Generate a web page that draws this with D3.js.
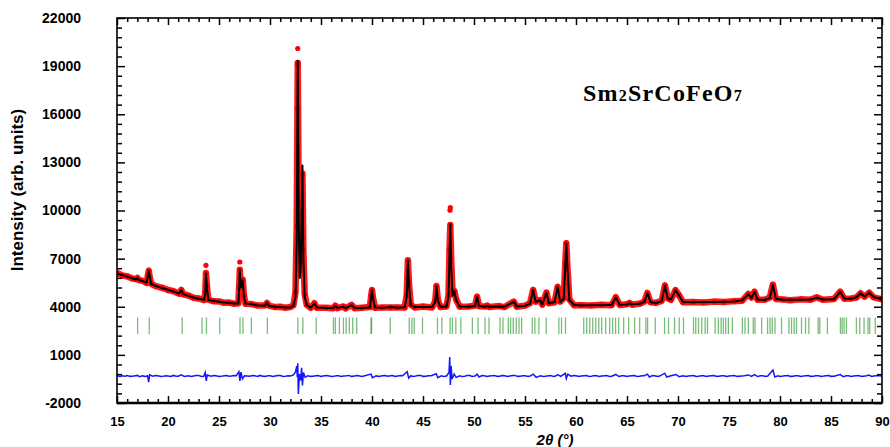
<!DOCTYPE html>
<html>
<head>
<meta charset="utf-8">
<script src="https://cdn.jsdelivr.net/npm/d3@7"></script>
<style>
  body { margin: 0; background: #fff; }
  svg { display: block; }
</style>
</head>
<body>
<div id="chart-area"></div>
<script>
// axis ticks
var xMajor = [15, 20, 25, 30, 35, 40, 45, 50, 55, 60, 65, 70, 75, 80, 85, 90];
var yMajor = [-2000, 1000, 4000, 7000, 10000, 13000, 16000, 19000, 22000];

// calculated profile [2theta, intensity]
var calcPts = [
  [15.0, 6080], [15.5, 5980], [16.0, 5880], [16.5, 5780], [16.85, 5700], [17.0, 5780], [17.15, 5680],
  [17.5, 5600], [17.9, 5500], [18.05, 6000], [18.12, 6230], [18.2, 5900], [18.35, 5420], [18.8, 5300],
  [19.5, 5150], [20.0, 5060], [20.5, 4960], [21.1, 4830], [21.3, 5030], [21.5, 4790], [22.0, 4680],
  [22.5, 4580], [23.0, 4500], [23.55, 4440], [23.65, 4800], [23.72, 6070], [23.82, 5200], [23.95, 4420],
  [24.5, 4360], [25.0, 4310], [25.5, 4270], [26.0, 4240], [26.5, 4210], [26.9, 4200], [26.97, 5000],
  [27.04, 6310], [27.12, 5200], [27.2, 5300], [27.32, 5650], [27.45, 4600], [27.6, 4200], [28.2, 4150],
  [28.7, 4100], [29.5, 4060], [29.7, 4250], [29.9, 4050], [30.5, 4000], [31.0, 3980], [31.5, 3960],
  [32.0, 3960], [32.3, 4050], [32.5, 4600], [32.62, 8000], [32.72, 19330], [32.82, 9000], [32.92, 5800],
  [33.02, 6500], [33.1, 10000], [33.18, 12800], [33.27, 7000], [33.4, 4600], [33.6, 4100], [34.0, 3950],
  [34.35, 4200], [34.6, 3950], [35.5, 3920], [36.2, 3920], [36.4, 4050], [36.6, 3930], [37.2, 4000],
  [37.4, 3920], [38.0, 4100], [38.3, 3930], [39.0, 3920], [39.8, 3960], [39.92, 4600], [40.0, 5030],
  [40.1, 4500], [40.3, 3950], [41.0, 3930], [41.8, 3980], [42.5, 3940], [43.2, 3970], [43.4, 4600],
  [43.52, 6870], [43.62, 5400], [43.8, 4100], [44.2, 3980], [45.0, 3990], [45.9, 3980], [46.2, 4300],
  [46.32, 5270], [46.45, 4400], [46.7, 4000], [47.3, 4000], [47.5, 4600], [47.6, 7200], [47.68, 9130],
  [47.76, 6500], [47.9, 4700], [48.08, 4960], [48.25, 4400], [48.6, 4020], [49.5, 4000], [50.1, 4050],
  [50.3, 4610], [50.5, 4050], [51.1, 4000], [51.3, 4050], [51.5, 4000], [52.5, 4020], [53.0, 4000],
  [53.9, 4300], [54.2, 4020], [55.0, 4050], [55.5, 4200], [55.8, 5030], [56.05, 4300], [56.45, 4400],
  [56.7, 4150], [57.1, 4860], [57.35, 4200], [57.9, 4300], [58.2, 5230], [58.45, 4300], [58.8, 4500],
  [58.95, 6600], [59.05, 7930], [59.15, 6500], [59.35, 4400], [59.8, 4120], [60.5, 4080], [61.5, 4100],
  [62.5, 4100], [63.5, 4120], [63.9, 4570], [64.3, 4130], [65.0, 4140], [65.25, 4220], [65.5, 4150],
  [66.3, 4180], [66.7, 4300], [67.0, 4840], [67.3, 4300], [67.8, 4220], [68.4, 4350], [68.72, 5310],
  [69.0, 4500], [69.3, 4450], [69.75, 5020], [70.1, 4700], [70.5, 4300], [71.5, 4280], [72.5, 4290],
  [73.5, 4300], [74.5, 4310], [75.5, 4330], [76.3, 4400], [76.9, 4780], [77.2, 4550], [77.5, 4920],
  [77.8, 4450], [78.5, 4420], [79.0, 4550], [79.3, 5340], [79.6, 4500], [80.3, 4430], [81.0, 4430],
  [82.0, 4440], [83.0, 4450], [83.6, 4570], [84.2, 4450], [85.3, 4470], [85.9, 4920], [86.3, 4520],
  [87.0, 4500], [87.5, 4600], [87.9, 4820], [88.3, 4650], [88.75, 4860], [89.2, 4600], [90.0, 4450]
];

// observed points [2theta, intensity]
var obsPts = [
  [15.0, 6120], [15.5, 5950], [16.0, 5900], [16.5, 5760], [16.85, 5720], [17.0, 5800], [17.15, 5660],
  [17.5, 5620], [17.9, 5480], [18.05, 6020], [18.12, 6250], [18.2, 5880], [18.35, 5440], [18.8, 5280],
  [19.5, 5170], [20.0, 5040], [20.5, 4980], [21.1, 4810], [21.3, 5050], [21.5, 4770], [22.0, 4700],
  [22.5, 4560], [23.0, 4520], [23.55, 4420], [23.65, 4900], [23.72, 6100], [23.82, 5300], [23.95, 4440],
  [24.5, 4340], [25.0, 4330], [25.5, 4250], [26.0, 4260], [26.5, 4190], [26.9, 4220], [26.97, 5200],
  [27.04, 6300], [27.12, 5400], [27.2, 5350], [27.32, 5700], [27.45, 4700], [27.6, 4180], [28.2, 4170],
  [28.7, 4080], [29.5, 4080], [29.7, 4230], [29.9, 4070], [30.5, 3980], [31.0, 4000], [31.5, 3940],
  [32.0, 3980], [32.3, 4100], [32.5, 4900], [32.62, 9000], [32.72, 19200],
  [32.82, 9800], [32.92, 6200], [33.02, 6800], [33.1, 10500], [33.18, 12300], [33.27, 7500], [33.4, 4800],
  [33.6, 4120], [34.0, 3930], [34.35, 4220], [34.6, 3930], [35.5, 3940], [36.2, 3900], [36.4, 4070],
  [36.6, 3910], [37.2, 4020], [37.4, 3900], [38.0, 4120], [38.3, 3910], [39.0, 3940], [39.8, 3980],
  [39.92, 4700], [40.0, 5050], [40.1, 4550], [40.3, 3930], [41.0, 3950], [41.8, 3960], [42.5, 3960],
  [43.2, 3950], [43.4, 4700], [43.52, 6900], [43.62, 5500], [43.8, 4120], [44.2, 3960], [45.0, 4010],
  [45.9, 3960], [46.2, 4350], [46.32, 5290], [46.45, 4450], [46.7, 3980], [47.3, 4020], [47.5, 4700],
  [47.6, 7600], [47.68, 9100], [47.76, 7000], [47.9, 4800], [48.08, 4980], [48.25, 4450],
  [48.6, 4000], [49.5, 4020], [50.1, 4070], [50.3, 4630], [50.5, 4030], [51.1, 4020], [51.3, 4070],
  [51.5, 3980], [52.5, 4040], [53.0, 3980], [53.9, 4320], [54.2, 4000], [55.0, 4070], [55.5, 4230],
  [55.8, 5050], [56.05, 4320], [56.45, 4420], [56.7, 4130], [57.1, 4880], [57.35, 4220], [57.9, 4280],
  [58.2, 5250], [58.45, 4320], [58.8, 4550], [58.95, 6700], [59.05, 7950], [59.15, 6600], [59.35, 4450],
  [59.8, 4100], [60.5, 4100], [61.5, 4080], [62.5, 4120], [63.5, 4100], [63.9, 4600], [64.3, 4110],
  [65.0, 4160], [65.25, 4240], [65.5, 4130], [66.3, 4200], [66.7, 4320], [67.0, 4860], [67.3, 4280],
  [67.8, 4240], [68.4, 4370], [68.72, 5330], [69.0, 4520], [69.3, 4430], [69.75, 5040], [70.1, 4720],
  [70.5, 4280], [71.5, 4300], [72.5, 4270], [73.5, 4320], [74.5, 4290], [75.5, 4350], [76.3, 4380],
  [76.9, 4800], [77.2, 4570], [77.5, 4940], [77.8, 4430], [78.5, 4440], [79.0, 4570], [79.3, 5380],
  [79.6, 4480], [80.3, 4450], [81.0, 4410], [82.0, 4460], [83.0, 4430], [83.6, 4590], [84.2, 4430],
  [85.3, 4490], [85.9, 4940], [86.3, 4500], [87.0, 4520], [87.5, 4580], [87.9, 4840], [88.3, 4630],
  [88.75, 4880], [89.2, 4580], [90.0, 4470]
];

// isolated observed points above the fitted peak tops
var obsTops = [
  [23.72, 6580], [27.04, 6790], [32.67, 16350], [32.7, 19100], [32.72, 20100],
  [33.16, 12150], [47.65, 10020], [47.68, 10180], [59.05, 8000]
];

// difference curve (obs - calc, shifted) [2theta, value]
var diffPts = [
  [15, -300], [15.3, -350], [15.5, -300], [15.8, -330], [16, -290], [16.3, -340], [16.5, -330], [16.8, -300],
  [17, -280], [17.2, -360], [17.5, -310], [17.8, -340], [18, -300],
  [18.1, -700], [18.2, -250], [18.5, -330], [18.8, -290], [19, -300], [19.3, -350], [19.5, -340], [19.8, -300],
  [20, -310], [20.3, -340], [20.5, -280], [20.8, -330], [21, -330],
  [21.3, -250], [21.6, -340], [22, -300], [22.3, -345], [22.5, -320], [22.8, -290], [23, -290], [23.3, -345],
  [23.5, -330], [23.65, -100], [23.75, -620],
  [23.85, -250], [24.2, -330], [24.5, -290], [24.7, -300], [25, -345], [25.2, -340], [25.5, -300], [25.7, -290],
  [26, -335], [26.2, -320], [26.5, -290], [26.7, -300],
  [26.95, -50], [27.05, -620], [27.15, -80], [27.3, -500], [27.5, -300], [28, -330], [28.3, -290], [28.5, -300],
  [28.8, -345], [29, -280], [29.3, -330], [29.5, -340], [29.8, -300], [30, -300], [30.3, -340], [30.5, -320],
  [30.8, -290], [31, -290], [31.3, -345], [31.5, -330], [31.8, -300], [32, -310], [32.3, -250], [32.5, -60],
  [32.62, 300], [32.68, -400], [32.72, 480], [32.78, -1440], [32.88, -200], [33.0, -600], [33.1, 200],
  [33.18, -900], [33.28, -100], [33.45, -400], [33.7, -300], [34, -340], [34.2, -330], [34.5, -300],
  [34.7, -290], [35, -340], [35.2, -320], [35.5, -290],
  [35.7, -300], [36, -345], [36.2, -340], [36.5, -300], [36.7, -300], [37, -345], [37.2, -320], [37.5, -300],
  [37.7, -280], [38, -340], [38.2, -330], [38.5, -290], [38.7, -300], [39, -345],
  [39.2, -320], [39.9, -200], [40.05, -420], [40.4, -310], [40.7, -345], [41, -300], [41.3, -290], [41.5, -330],
  [41.8, -300], [42, -290], [42.3, -345], [42.5, -320], [42.8, -290],
  [43, -300], [43.45, -50], [43.6, -450], [43.8, -300], [44, -340], [44.3, -320], [44.5, -290], [44.8, -290],
  [45, -340], [45.3, -330], [45.5, -300], [45.8, -300],
  [46.3, -180], [46.45, -420], [46.8, -300], [47, -340], [47.3, -320], [47.55, -100], [47.62, 860], [47.68, -880],
  [47.76, 300], [47.85, -500], [48.05, -200], [48.25, -400], [48.6, -300], [48.8, -345], [49.1, -330],
  [49.3, -290], [49.6, -290], [49.8, -340],
  [50.1, -320], [50.3, -200], [50.5, -380], [50.8, -290], [51, -300], [51.3, -345], [51.5, -320], [51.8, -300],
  [52, -290], [52.3, -340], [52.5, -330], [52.8, -290], [53, -300],
  [53.3, -345], [53.5, -320], [53.8, -290], [54, -280], [54.3, -340], [54.5, -330], [54.8, -300], [55, -300],
  [55.3, -345], [55.5, -320], [55.8, -200], [56.1, -400], [56.5, -300],
  [56.8, -345], [57, -330], [57.3, -300], [57.5, -290], [57.8, -340], [58, -320], [58.2, -230], [58.5, -340],
  [58.95, -150], [59.05, -480],
  [59.2, -200], [59.5, -330], [59.8, -290], [60, -300], [60.3, -345], [60.5, -320], [60.8, -300], [61, -290],
  [61.3, -345], [61.5, -330], [61.8, -290], [62, -300], [62.3, -340], [62.5, -320],
  [62.8, -300], [63, -290], [63.3, -345], [63.5, -330], [63.9, -220], [64.2, -340], [64.5, -300], [64.7, -300],
  [65, -345], [65.2, -320], [65.5, -300], [65.7, -290],
  [66, -345], [66.2, -330], [66.5, -300], [66.7, -300], [67, -200], [67.2, -380], [67.5, -290], [67.7, -300],
  [68, -340], [68.2, -320], [68.7, -140],
  [68.9, -380], [69.3, -300], [69.8, -220], [70.1, -360], [70.5, -300], [70.8, -340], [71, -320], [71.3, -300],
  [71.5, -290], [71.8, -345], [72, -330],
  [72.3, -300], [72.5, -300], [72.8, -345], [73, -320], [73.3, -300], [73.5, -290], [73.8, -340], [74, -330],
  [74.3, -300], [74.5, -300], [74.8, -345], [75, -320], [75.3, -300], [75.5, -290], [75.8, -340], [76, -330],
  [76.5, -300], [76.9, -250], [77.2, -340], [77.5, -230], [77.8, -350], [78.1, -300], [78.3, -300],
  [78.6, -345], [78.8, -320], [79.3, 50],
  [79.5, -380], [79.8, -300], [80, -345], [80.3, -320], [80.5, -300], [80.8, -290], [81, -340], [81.3, -330],
  [81.5, -300], [81.8, -300], [82, -345], [82.3, -320],
  [82.5, -300], [82.8, -290], [83, -340], [83.3, -330], [83.5, -300], [83.8, -300], [84, -345], [84.3, -320],
  [84.5, -300], [84.8, -290], [85, -340], [85.3, -330], [85.9, -230],
  [86.2, -360], [86.5, -300], [86.7, -300], [87, -345], [87.2, -320], [87.5, -300], [87.7, -290], [88, -340],
  [88.2, -330], [88.5, -300], [88.7, -260], [89, -340], [89.2, -320],
  [89.6, -290], [90, -310]
];

// Bragg reflection positions (2theta)
var braggPos = [
  17.02, 18.16, 21.39, 23.34, 23.77, 25.07, 27.06, 27.35, 28.17, 29.74, 32.73, 33.22, 34.53, 36.22,
  36.41, 36.80, 37.20, 37.46, 37.78, 38.11, 38.50, 39.90, 39.96, 41.79, 43.65, 43.91, 44.14, 44.95,
  46.42, 46.85, 47.66, 47.88, 48.22, 48.71, 49.84, 50.40, 51.08, 51.47, 52.55, 52.84, 53.36, 53.59,
  53.85, 54.14, 54.41, 54.67, 55.71, 55.97, 56.36, 57.08, 58.32, 58.58, 58.97, 60.76, 61.05, 61.35,
  61.64, 61.93, 62.23, 62.52, 62.91, 63.30, 63.59, 63.88, 64.18, 64.67, 65.16, 65.75, 66.24, 66.85,
  67.02, 67.77, 68.68, 69.07, 69.66, 70.12, 70.54, 71.52, 71.74, 72.01, 72.33, 72.66, 72.89, 73.64,
  73.96, 74.23, 74.45, 74.68, 74.94, 75.33, 76.31, 76.57, 76.90, 77.38, 77.55, 78.20, 78.78, 79.02,
  79.24, 79.51, 80.15, 80.88, 81.13, 81.39, 81.62, 82.11, 82.50, 82.83, 83.74, 83.90, 84.65, 85.92,
  86.09, 86.28, 86.51, 87.49, 87.82, 88.24, 88.63, 88.80, 89.34
];
var braggRange = [2300, 3330];

var W = 890, H = 447;
var mLeft = 117, mRight = 882, mTop = 18, mBottom = 403;

var svg = d3.select('#chart-area')
  .append('svg')
    .attr('width', W)
    .attr('height', H);

var x = d3.scaleLinear().domain([15, 90]).range([mLeft, mRight]);
var y = d3.scaleLinear().domain([-2000, 22000]).range([mBottom, mTop]);

// minor tick values
var xMinor = d3.range(15, 90.01, 1).filter(v => v % 5 !== 0);
var yMinor = d3.range(-2000, 22001, 600).filter(v => (v + 2000) % 3000 !== 0);

svg.append('clipPath').attr('id', 'clip')
  .append('rect')
    .attr('x', mLeft).attr('y', mTop)
    .attr('width', mRight - mLeft).attr('height', mBottom - mTop);

var plot = svg.append('g').attr('clip-path', 'url(#clip)');

var line = d3.line().x(d => x(d[0])).y(d => y(d[1]));

// observed: dense red band + dots
plot.append('path')
  .datum(obsPts)
  .attr('fill', 'none')
  .attr('stroke', '#ff1a1a')
  .attr('stroke-width', 6.5)
  .attr('stroke-linejoin', 'round')
  .attr('d', line);

plot.selectAll('circle.obs')
  .data(obsPts.concat(obsTops))
  .enter().append('circle')
    .attr('class', 'obs')
    .attr('cx', d => x(d[0]))
    .attr('cy', d => y(d[1]))
    .attr('r', 2.6)
    .attr('fill', '#ff0000');

// calculated
plot.append('path')
  .datum(calcPts)
  .attr('fill', 'none')
  .attr('stroke', '#000')
  .attr('stroke-width', 2)
  .attr('stroke-linejoin', 'round')
  .attr('d', line);

// Bragg ticks
plot.selectAll('line.bragg')
  .data(braggPos)
  .enter().append('line')
    .attr('class', 'bragg')
    .attr('x1', d => x(d)).attr('x2', d => x(d))
    .attr('y1', y(braggRange[1])).attr('y2', y(braggRange[0]))
    .attr('stroke', '#2f9a2f')
    .attr('stroke-opacity', 0.65)
    .attr('stroke-width', 1.3);

// difference
plot.append('path')
  .datum(diffPts)
  .attr('fill', 'none')
  .attr('stroke', '#1515ff')
  .attr('stroke-width', 1.5)
  .attr('d', line);

// axes with inward ticks
function styleAxis(g) {
  g.selectAll('.domain').remove();
  g.selectAll('.tick line').attr('stroke', '#000').attr('stroke-width', 1.5);
  g.selectAll('.tick text')
    .attr('fill', '#000')
    .attr('font-family', 'Arial, "Liberation Sans", sans-serif')
    .attr('font-weight', 'bold');
}

var plainNum = d => String(d);

svg.append('g')
  .attr('transform', 'translate(0,' + mBottom + ')')
  .call(d3.axisBottom(x).tickValues(xMajor).tickSizeInner(-7).tickSizeOuter(0).tickPadding(14).tickFormat(plainNum))
  .call(styleAxis)
  .selectAll('.tick text').attr('font-size', '13px');

svg.append('g')
  .attr('transform', 'translate(0,' + mBottom + ')')
  .call(d3.axisBottom(x).tickValues(xMinor).tickSizeInner(-4).tickSizeOuter(0).tickFormat(''))
  .call(styleAxis);

svg.append('g')
  .attr('transform', 'translate(0,' + mTop + ')')
  .call(d3.axisTop(x).tickValues(xMajor).tickSizeInner(-7).tickSizeOuter(0).tickFormat(''))
  .call(styleAxis);

svg.append('g')
  .attr('transform', 'translate(0,' + mTop + ')')
  .call(d3.axisTop(x).tickValues(xMinor).tickSizeInner(-4).tickSizeOuter(0).tickFormat(''))
  .call(styleAxis);

svg.append('g')
  .attr('transform', 'translate(' + mLeft + ',0)')
  .call(d3.axisLeft(y).tickValues(yMajor).tickSizeInner(-8).tickSizeOuter(0).tickPadding(36).tickFormat(plainNum))
  .call(styleAxis)
  .selectAll('.tick text').attr('font-size', '14px');

svg.append('g')
  .attr('transform', 'translate(' + mLeft + ',0)')
  .call(d3.axisLeft(y).tickValues(yMinor).tickSizeInner(-5).tickSizeOuter(0).tickFormat(''))
  .call(styleAxis);

svg.append('g')
  .attr('transform', 'translate(' + mRight + ',0)')
  .call(d3.axisRight(y).tickValues(yMajor).tickSizeInner(-8).tickSizeOuter(0).tickFormat(''))
  .call(styleAxis);

svg.append('g')
  .attr('transform', 'translate(' + mRight + ',0)')
  .call(d3.axisRight(y).tickValues(yMinor).tickSizeInner(-5).tickSizeOuter(0).tickFormat(''))
  .call(styleAxis);

// frame
svg.append('rect')
  .attr('x', mLeft).attr('y', mTop)
  .attr('width', mRight - mLeft).attr('height', mBottom - mTop)
  .attr('fill', 'none')
  .attr('stroke', '#000')
  .attr('stroke-width', 1.6);
svg.append('line')
  .attr('x1', mLeft).attr('x2', mRight)
  .attr('y1', mBottom).attr('y2', mBottom)
  .attr('stroke', '#000').attr('stroke-width', 2.4);

// axis titles
svg.append('text')
  .attr('transform', 'translate(23,190) rotate(-90)')
  .attr('text-anchor', 'middle')
  .attr('font-family', 'Arial, "Liberation Sans", sans-serif')
  .attr('font-weight', 'bold')
  .attr('font-size', '17px')
  .text('Intensity (arb. units)');

svg.append('text')
  .attr('x', 555)
  .attr('y', 445)
  .attr('text-anchor', 'middle')
  .attr('font-family', 'Arial, "Liberation Sans", sans-serif')
  .attr('font-weight', 'bold')
  .attr('font-style', 'italic')
  .attr('font-size', '15px')
  .text('2θ (°)');

// compound label
var lbl = svg.append('text')
  .attr('x', 583)
  .attr('y', 101)
  .attr('font-family', '"Liberation Serif", "Times New Roman", serif')
  .attr('font-weight', 'bold')
  .attr('font-size', '24px')
  .attr('letter-spacing', '1.2px');
lbl.append('tspan').text('Sm');
lbl.append('tspan').attr('font-size', '16px').text('2');
lbl.append('tspan').text('SrCoFeO');
lbl.append('tspan').attr('font-size', '16px').text('7');
</script>
</body>
</html>
